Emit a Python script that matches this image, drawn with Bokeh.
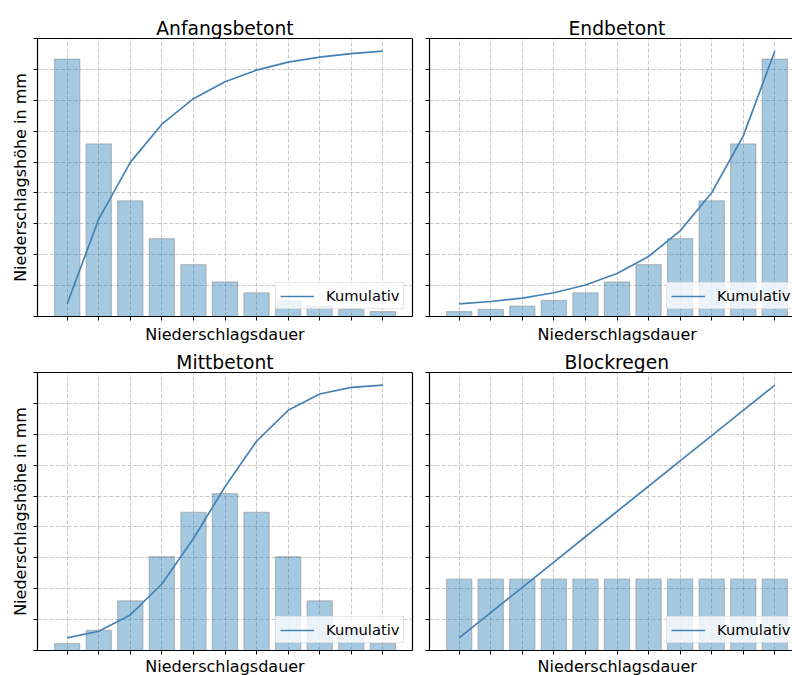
import numpy as np
from bokeh.plotting import figure
from bokeh.models import Range1d, LinearAxis, FixedTicker, Legend, LegendItem, Title
from bokeh.layouts import column, row
from bokeh.embed import file_html
from bokeh.resources import INLINE

# time steps of the design storm (unlabelled categories)
steps = list(range(11))

# rainfall depth per time step for the four temporal patterns
anfangsbetont = [8.34, 5.59, 3.75, 2.52, 1.68, 1.12, 0.77, 0.52, 0.34, 0.23, 0.16]
endbetont = [0.16, 0.23, 0.34, 0.52, 0.77, 1.12, 1.68, 2.52, 3.75, 5.59, 8.34]
mittbetont = [0.22, 0.65, 1.61, 3.04, 4.48, 5.08, 4.48, 3.04, 1.61, 0.65, 0.22]
blockregen = [2.31, 2.31, 2.31, 2.31, 2.31, 2.31, 2.31, 2.31, 2.31, 2.31, 2.31]

titles = ["Anfangsbetont", "Endbetont", "Mittbetont", "Blockregen"]
series = [anfangsbetont, endbetont, mittbetont, blockregen]
x_label = "Niederschlagsdauer"
y_label = "Niederschlagshöhe in mm"
legend_label = "Kumulativ"

# shared depth axis: 10 evenly spaced (unlabelled) ticks from 0 to 1.08 * max
y_top = 1.08 * max(max(s) for s in series)
y_ticks = list(np.linspace(0, y_top, 10))

FONT = "DejaVu Sans"
BAR_COLOR = "#1f77b4"
LINE_COLOR = "#4682b4"
GRID_COLOR = "#b0b0b0"
FRAME_W, FRAME_H = 375, 278


def style_axis(ax, ticks, tick_len):
    # unlabelled ticks are drawn as minor ticks only
    ax.ticker = FixedTicker(ticks=[], minor_ticks=ticks)
    ax.axis_line_color = "black"
    ax.axis_line_width = 1.2
    ax.major_tick_out = tick_len
    ax.major_tick_in = 0
    ax.minor_tick_line_color = "black"
    ax.minor_tick_line_width = 1
    ax.minor_tick_out = tick_len
    ax.minor_tick_in = 0
    ax.major_label_standoff = 0


def make_panel(title, values, left_col, top_row):
    n = len(values)
    span = (n - 1) + 0.8
    x0 = -0.4 - 0.05 * span
    x1 = (n - 1) + 0.4 + 0.05 * span
    if left_col:
        frame_w, b_left, b_right = FRAME_W, 37, 8
        x_end = x1
    else:
        # right column runs past the page edge
        frame_w, b_left, b_right = 363, 9, 0
        x_end = x0 + (x1 - x0) * frame_w / FRAME_W
    b_top, b_bottom = (38, 29) if top_row else (27, 25)

    p = figure(
        frame_width=frame_w, frame_height=FRAME_H,
        x_range=Range1d(x0, x_end), y_range=Range1d(0, y_top),
        output_backend="svg", toolbar_location=None,
        min_border_left=b_left, min_border_right=b_right,
        min_border_top=b_top, min_border_bottom=b_bottom,
        background_fill_color="white", border_fill_color="white",
    )
    p.outline_line_color = None

    style_axis(p.below[0], steps, 4)
    style_axis(p.left[0], y_ticks, 4)
    top_axis = LinearAxis()
    style_axis(top_axis, [], 0)
    p.add_layout(top_axis, "above")
    if left_col:
        right_axis = LinearAxis()
        style_axis(right_axis, [], 0)
        p.add_layout(right_axis, "right")
        yax = p.left[0]
        yax.axis_label = y_label
        yax.axis_label_text_font = FONT
        yax.axis_label_text_font_size = "16px"
        yax.axis_label_text_font_style = "normal"
        yax.axis_label_text_color = "black"
        yax.axis_label_standoff = 4

    for g, ticks in ((p.xgrid, steps), (p.ygrid, y_ticks)):
        g.ticker = FixedTicker(ticks=[], minor_ticks=ticks)
        g.grid_line_color = None
        g.minor_grid_line_color = GRID_COLOR
        g.minor_grid_line_alpha = 0.7
        g.minor_grid_line_dash = "4 2"
        g.minor_grid_line_width = 1

    p.vbar(x=steps, top=values, bottom=0, width=0.8,
           fill_color=BAR_COLOR, fill_alpha=0.4,
           line_color="grey", line_alpha=0.45, line_width=1.2)

    # cumulative depth on its own auto-scaled axis (5 % margins)
    cum = np.cumsum(values)
    pad = 0.05 * (cum[-1] - cum[0])
    p.extra_y_ranges = {"cum": Range1d(cum[0] - pad, cum[-1] + pad)}
    line = p.line(steps, cum, y_range_name="cum",
                  line_color=LINE_COLOR, line_width=1.7)

    legend = Legend(
        items=[LegendItem(label=legend_label, renderers=[line])],
        location=(238 if left_col else 237, 7),
        label_text_font=FONT, label_text_font_size="14.7px",
        label_text_color="black",
        glyph_width=34, glyph_height=14, label_height=14,
        label_standoff=12, padding=4, margin=0, spacing=0,
        border_line_color="#cccccc", border_line_width=1,
        background_fill_color="white", background_fill_alpha=0.8,
    )
    p.add_layout(legend)

    # titles are centred on the full (unclipped) frame width
    p.title.text = title
    p.title.text_font = FONT
    p.title.text_font_size = "18.7px"
    p.title.text_font_style = "normal"
    p.title.text_color = "black"
    p.title.standoff = 0
    p.title.vertical_align = "bottom"
    if left_col:
        p.title.align = "center"
    else:
        p.title.align = "left"
        p.title.offset = {"Endbetont": 139, "Blockregen": 135}.get(title, 140)

    xt = Title(text=x_label, text_font=FONT, text_font_size="16px",
               text_font_style="normal", text_color="black",
               standoff=4 if top_row else 0, vertical_align="bottom")
    if left_col:
        xt.align = "center"
    else:
        xt.align = "left"
        xt.offset = 108
    p.add_layout(xt, "below")
    return p


panels = [
    make_panel(titles[0], series[0], True, True),
    make_panel(titles[1], series[1], False, True),
    make_panel(titles[2], series[2], True, False),
    make_panel(titles[3], series[3], False, False),
]

layout = column(row(panels[0], panels[1]), row(panels[2], panels[3]))

with open("out.html", "w") as f:
    f.write(file_html(layout, INLINE))
